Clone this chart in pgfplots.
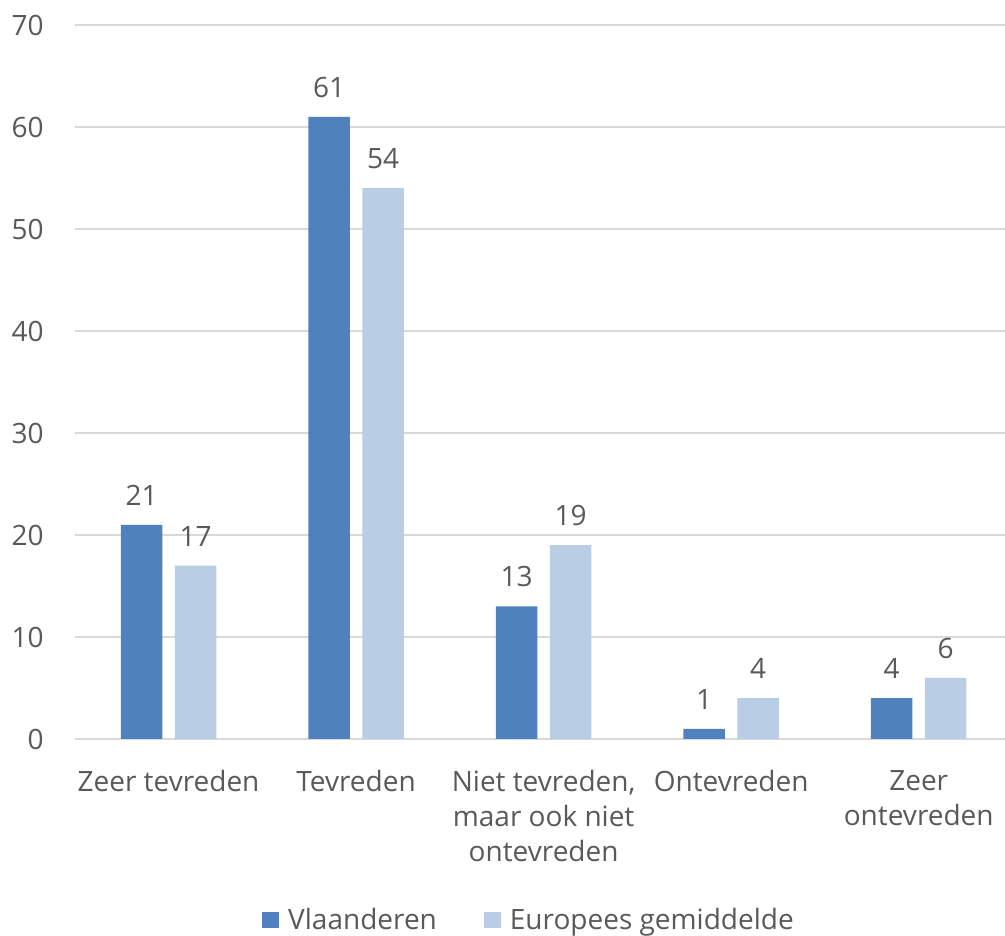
\documentclass[border=0pt]{standalone}
\usepackage{pgfplots}
\pgfplotsset{compat=1.18}
\usepackage{fontspec}
\setmainfont{Open Sans}
\definecolor{vl}{HTML}{4F81BD}
\definecolor{eu}{HTML}{B9CDE5}
\definecolor{txt}{HTML}{595959}
\definecolor{grd}{HTML}{D9D9D9}
\newcommand{\cf}{\fontsize{28}{35}\selectfont}
\begin{document}
\begin{tikzpicture}
\begin{axis}[
  scale only axis, width=930.25pt, height=714pt,
  xmin=-0.5, xmax=4.46, ymin=0, ymax=70,
  ybar, bar width=41.5pt,
  axis line style={draw=none},
  major tick style={draw=none},
  ymajorgrids, grid style={grd, line width=1.3pt},
  ytick={0,10,...,70},
  xtick={0,1,2,3,4},
  xticklabels={Zeer tevreden, Tevreden, {Niet tevreden,\\maar ook niet\\ontevreden}, Ontevreden, {Zeer\\ontevreden}},
  /pgf/number format/assume math mode=true,
  yticklabel style={font=\cf, text=txt, anchor=east, inner sep=0pt, xshift=-31pt},
  xticklabel style={font=\cf, text=txt, anchor=north, inner sep=0pt, yshift=-27pt, align=center},
  nodes near coords,
  nodes near coords style={font=\cf, text=txt, anchor=south, inner sep=0pt, yshift=19pt},
  legend style={at={(0.2013,-0.2535)}, anchor=west, draw=none, fill=none, font=\cf, text=txt,
    legend columns=2, inner sep=0pt,
    /tikz/every even column/.append style={column sep=47pt},
    nodes={inner sep=0pt}},
  legend image code/.code={\fill[#1] (0pt,-8pt) rectangle (17pt,8pt); \path (26pt,0pt);},
]
\addplot[fill=vl, draw=none, bar shift=-27pt] coordinates {(0,21) (1,61) (2,13) (3,1) (4,4)};
\addplot[fill=eu, draw=none, bar shift=27pt] coordinates {(0,17) (1,54) (2,19) (3,4) (4,6)};
\legend{Vlaanderen, Europees gemiddelde}
\coordinate (BL) at (rel axis cs:0,0);
\end{axis}
\pgfresetboundingbox
\path[use as bounding box] ([shift={(-74.75pt,-197pt)}]BL) rectangle ([shift={(930.25pt,739pt)}]BL);
\end{tikzpicture}
\end{document}
